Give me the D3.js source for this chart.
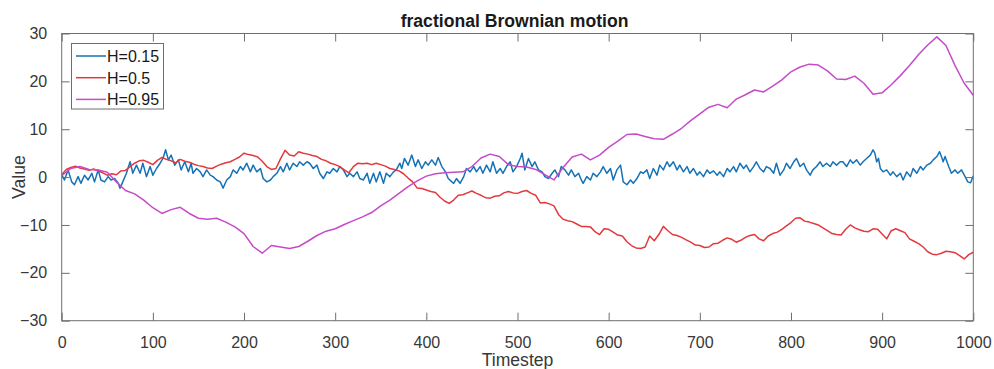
<!DOCTYPE html>
<html>
<head>
<meta charset="utf-8">
<script src="https://cdn.jsdelivr.net/npm/d3@7"></script>
<style>
  html, body { margin: 0; padding: 0; background: #fff; }
  svg { display: block; font-family: "Liberation Sans", Arial, Helvetica, sans-serif; }
</style>
</head>
<body>
<svg id="chart" width="994" height="369"></svg>
<script>
// Sample paths of fractional Brownian motion for three Hurst exponents.
const titleText = "fractional Brownian motion";
const xLabel = "Timestep";
const yLabel = "Value";
const xTicks = [0, 100, 200, 300, 400, 500, 600, 700, 800, 900, 1000];
const yTicks = [-30, -20, -10, 0, 10, 20, 30];
const seriesNames = ["H=0.15", "H=0.5", "H=0.95"];

// H=0.15: rough path, [timestep, value]
const h015 = [
  [0,0.5],[3,-0.6],[7,1.5],[11,-1.0],[14,-1.6],[18,0.1],[21,-1.3],[25,0.4],[29,-0.6],[33,0.8],
  [36,-1.0],[40,1.5],[43,-0.6],[47,-1.0],[51,0.1],[54,-0.6],[58,-0.3],[62,-1.3],[64,-2.3],[67,-1.0],
  [71,0.8],[75,3.2],[78,0.8],[82,2.5],[86,0.8],[89,2.9],[93,0.1],[97,2.2],[100,0.4],[104,1.8],
  [108,2.9],[111,3.9],[114,5.7],[117,3.6],[120,4.6],[124,2.5],[128,3.6],[131,1.5],[135,3.2],[139,1.1],
  [142,2.9],[144,0.8],[148,1.8],[152,1.1],[155,0.1],[159,1.5],[163,0.4],[166,0.1],[170,-0.6],[174,-1.0],
  [177,-2.3],[181,-0.6],[185,0.1],[188,1.5],[192,0.8],[196,2.2],[199,1.5],[203,2.9],[207,1.1],[210,2.5],
  [214,1.1],[218,1.8],[221,-0.3],[225,-1.0],[229,-0.6],[232,0.1],[236,0.8],[240,2.2],[243,1.1],[247,2.9],
  [250,1.5],[254,2.9],[258,2.2],[261,3.2],[265,2.5],[269,3.2],[272,2.9],[276,1.8],[280,2.5],[283,0.8],
  [287,-0.3],[291,1.1],[294,0.8],[298,1.8],[302,1.1],[305,2.2],[309,1.5],[313,0.1],[316,0.8],[320,0.1],
  [324,1.1],[327,-0.3],[331,-0.6],[335,0.8],[338,-1.3],[342,0.8],[345,-1.0],[349,1.1],[353,-1.3],[356,0.8],
  [360,0.1],[364,1.1],[367,1.5],[371,2.9],[373,1.8],[376,3.9],[380,2.5],[384,4.6],[388,2.2],[391,3.6],
  [395,1.8],[399,3.2],[402,2.5],[406,3.6],[410,2.5],[413,4.1],[417,2.2],[421,1.1],[424,-0.3],[428,-1.0],
  [430,-1.3],[433,-0.3],[437,-1.3],[441,0.1],[444,1.8],[448,1.1],[452,2.2],[455,1.1],[459,2.2],[462,0.8],
  [466,2.5],[470,1.1],[473,3.2],[477,0.8],[481,1.8],[484,0.8],[488,2.2],[492,3.2],[495,1.1],[499,2.2],
  [503,3.9],[505,5.0],[508,1.5],[512,3.9],[516,2.2],[519,3.2],[523,1.5],[527,1.1],[530,0.1],[534,-0.3],
  [538,0.8],[541,1.5],[545,0.1],[548,2.2],[552,1.5],[556,0.4],[559,1.5],[563,0.1],[567,0.8],[570,-0.6],
  [572,-1.3],[576,0.1],[580,-0.6],[583,0.8],[587,0.1],[591,1.1],[594,2.2],[598,0.8],[602,1.8],[605,-0.6],
  [609,1.5],[613,2.5],[616,-1.0],[620,-1.6],[624,-0.6],[627,-1.3],[631,-0.3],[635,1.1],[638,0.8],[642,1.5],
  [645,-0.3],[649,1.8],[653,0.4],[656,2.5],[660,1.5],[664,3.2],[667,2.2],[671,3.2],[675,1.5],[678,2.5],
  [682,1.1],[686,2.2],[689,0.8],[693,1.8],[697,0.4],[700,1.1],[704,0.1],[708,1.5],[711,0.8],[715,1.3],
  [719,0.4],[722,1.1],[726,0.1],[730,1.8],[733,1.1],[737,2.2],[740,1.1],[744,2.9],[748,1.8],[751,2.5],
  [755,1.1],[759,2.2],[762,3.2],[766,1.8],[770,1.1],[773,2.2],[777,1.8],[781,0.8],[784,2.9],[788,0.4],
  [792,1.5],[795,2.9],[799,1.8],[803,3.2],[806,3.9],[810,2.2],[814,2.9],[817,1.5],[821,0.4],[824,1.5],
  [828,2.2],[832,3.2],[835,2.2],[839,2.9],[843,2.2],[846,3.2],[850,2.5],[854,3.2],[857,3.2],[861,2.2],
  [865,3.6],[868,2.9],[872,3.6],[876,2.5],[879,3.2],[883,3.9],[887,4.6],[890,5.7],[892,5.0],[894,3.2],
  [896,3.9],[898,1.8],[901,1.1],[905,1.5],[909,0.4],[912,1.1],[916,0.1],[920,0.8],[923,-0.6],[927,1.1],
  [931,0.1],[934,1.8],[938,0.8],[942,2.2],[945,1.5],[949,2.5],[953,2.9],[956,3.6],[960,4.3],[963,5.3],
  [965,4.3],[967,3.2],[969,4.3],[973,2.2],[976,0.8],[980,1.5],[983,0.8],[987,1.5],[991,0.1],[994,-1.0],
  [997,-1.2],[1000,0.3]
];

// H=0.5: standard Brownian motion, one value every 5 timesteps
const h05Step = 5;
const h05 = [
  0.5,1.6,2.0,2.3,1.9,1.7,1.4,1.7,1.3,0.9,
  0.4,0.7,0.5,1.3,1.4,2.2,2.9,3.4,3.5,3.1,
  2.6,3.5,4.1,3.7,3.4,3.0,3.7,3.3,3.1,2.7,
  2.4,2.2,1.9,1.8,2.3,2.7,3.0,3.2,3.7,4.2,
  5.0,4.7,4.5,4.2,3.3,2.2,1.6,1.8,3.8,5.6,
  4.6,4.4,5.3,5.0,4.8,4.5,4.3,3.7,3.4,2.9,
  2.6,2.2,1.5,0.9,2.2,2.9,2.8,2.9,2.6,2.9,
  2.6,2.3,1.8,1.6,1.3,0.7,-0.2,-1.0,-2.3,-2.4,
  -2.7,-3.0,-3.2,-4.2,-5.0,-5.5,-4.8,-3.8,-3.7,-3.3,
  -2.9,-3.4,-3.8,-4.3,-4.4,-4.0,-3.9,-3.3,-3.0,-3.3,
  -3.4,-3.0,-2.8,-3.4,-3.8,-5.4,-5.3,-5.6,-6.0,-7.8,
  -8.8,-9.1,-9.3,-9.8,-10.3,-10.3,-10.4,-11.4,-12.0,-10.8,
  -10.9,-11.5,-12.1,-12.3,-13.5,-14.3,-14.8,-14.9,-14.6,-12.3,
  -13.3,-12.0,-10.3,-11.2,-12.0,-12.2,-12.6,-13.1,-13.6,-14.2,
  -14.3,-14.7,-14.6,-13.9,-13.8,-13.2,-12.7,-13.0,-13.6,-13.2,
  -12.6,-12.2,-12.0,-12.9,-13.3,-12.3,-11.8,-11.5,-10.9,-10.2,
  -9.5,-8.6,-8.5,-9.2,-9.4,-9.7,-10.0,-10.6,-11.2,-11.8,
  -12.0,-12.1,-10.9,-10.0,-10.6,-11.0,-11.3,-11.4,-10.8,-10.9,
  -11.9,-12.9,-11.2,-10.8,-11.2,-11.6,-12.9,-13.4,-13.9,-14.6,
  -15.6,-16.1,-16.2,-15.9,-15.5,-15.6,-15.8,-16.4,-17.1,-16.2,
  -15.7
];

// H=0.95: smooth, persistent path, one value every 10 timesteps
const h095Step = 10;
const h095 = [
  0.3,1.8,2.2,1.6,1.5,1.0,-1.0,-2.8,-3.5,-4.8,
  -6.4,-7.6,-6.8,-6.3,-7.6,-8.6,-8.8,-8.6,-9.4,-10.4,
  -11.8,-14.5,-15.9,-14.3,-14.6,-14.9,-14.5,-13.4,-12.2,-11.3,
  -10.8,-9.9,-9.1,-8.3,-7.4,-6.0,-4.8,-3.4,-2.0,-0.8,
  0.2,0.7,0.9,1.0,1.1,2.2,4.0,4.8,4.3,2.6,
  2.2,2.1,1.6,0.5,-0.6,2.0,4.2,4.8,3.6,4.6,
  6.2,7.5,8.9,9.0,8.5,8.0,7.9,9.0,10.2,11.8,
  13.2,14.6,15.2,14.5,16.3,17.2,18.2,17.8,19.0,20.3,
  22.0,23.0,23.6,23.4,22.2,20.5,20.4,21.1,19.6,17.3,
  17.6,19.3,21.2,23.3,25.6,27.6,29.3,27.5,23.3,19.6,
  17.1
];

const colors = ["#1572b6", "#e3383d", "#c64bc9"];

const series = [
  h015.map(([t, v]) => ({ t, v })),
  h05.map((v, i) => ({ t: i * h05Step, v })),
  h095.map((v, i) => ({ t: i * h095Step, v }))
];

const svg = d3.select("#chart");
const plotLeft = 61.7, plotRight = 973.3, plotTop = 33.5, plotBottom = 320.7;

const x = d3.scaleLinear().domain([0, 1000]).range([plotLeft, plotRight]);
const y = d3.scaleLinear().domain([-30, 30]).range([plotBottom, plotTop]);

const axisColor = "#6e6e6e";
const textColor = "#383838";
const tickLen = 8;
const lineWidth = 1.5;

// plot background
svg.append("rect")
  .attr("x", plotLeft).attr("y", plotTop)
  .attr("width", plotRight - plotLeft).attr("height", plotBottom - plotTop)
  .attr("fill", "#fff");

svg.append("defs").append("clipPath").attr("id", "plot-clip")
  .append("rect")
  .attr("x", plotLeft).attr("y", plotTop)
  .attr("width", plotRight - plotLeft).attr("height", plotBottom - plotTop);

// data lines (drawn in series order, later series on top)
const line = d3.line().x(d => x(d.t)).y(d => y(d.v));
const lines = svg.append("g").attr("clip-path", "url(#plot-clip)");
series.forEach((s, i) => {
  lines.append("path")
    .datum(s)
    .attr("d", line)
    .attr("fill", "none")
    .attr("stroke", colors[i])
    .attr("stroke-width", lineWidth)
    .attr("stroke-linejoin", "round");
});

// axes: ticks point inward, box on all four sides
const fontSize = 16;
const styleAxis = g => {
  g.select(".domain").remove();
  g.selectAll(".tick line").attr("stroke", axisColor).attr("stroke-width", 1);
  g.selectAll(".tick text").attr("fill", textColor).attr("font-size", fontSize)
    .attr("font-family", "Liberation Sans, Arial, sans-serif");
};

svg.append("g")
  .attr("transform", `translate(0,${plotBottom})`)
  .call(d3.axisBottom(x).tickValues(xTicks).tickFormat(d3.format("d"))
    .tickSizeInner(-tickLen).tickSizeOuter(0).tickPadding(tickLen + 8))
  .call(styleAxis);

svg.append("g")
  .attr("transform", `translate(0,${plotTop})`)
  .call(d3.axisTop(x).tickValues(xTicks).tickFormat("")
    .tickSizeInner(-tickLen).tickSizeOuter(0))
  .call(styleAxis);

svg.append("g")
  .attr("transform", `translate(${plotLeft},0)`)
  .call(d3.axisLeft(y).tickValues(yTicks).tickFormat(d3.format("d"))
    .tickSizeInner(-tickLen).tickSizeOuter(0).tickPadding(tickLen + 6.5))
  .call(styleAxis);

svg.append("g")
  .attr("transform", `translate(${plotRight},0)`)
  .call(d3.axisRight(y).tickValues(yTicks).tickFormat("")
    .tickSizeInner(-tickLen).tickSizeOuter(0))
  .call(styleAxis);

svg.append("rect")
  .attr("x", plotLeft).attr("y", plotTop)
  .attr("width", plotRight - plotLeft).attr("height", plotBottom - plotTop)
  .attr("fill", "none")
  .attr("stroke", axisColor)
  .attr("stroke-width", 1);

// titles
svg.append("text")
  .attr("x", (plotLeft + plotRight) / 2 - 3)
  .attr("y", 26.5)
  .attr("text-anchor", "middle")
  .attr("font-size", 17.6)
  .attr("font-weight", "bold")
  .attr("fill", "#1a1a1a")
  .text(titleText);

svg.append("text")
  .attr("x", (plotLeft + plotRight) / 2)
  .attr("y", 366)
  .attr("text-anchor", "middle")
  .attr("font-size", 17.6)
  .attr("fill", textColor)
  .text(xLabel);

svg.append("text")
  .attr("transform", `translate(25,${(plotTop + plotBottom) / 2}) rotate(-90)`)
  .attr("text-anchor", "middle")
  .attr("font-size", 17.6)
  .attr("fill", textColor)
  .text(yLabel);

// legend
const legend = svg.append("g");
legend.append("rect")
  .attr("x", 71.5).attr("y", 43.5)
  .attr("width", 92).attr("height", 65.5)
  .attr("fill", "#fff")
  .attr("stroke", axisColor)
  .attr("stroke-width", 1);

seriesNames.forEach((name, i) => {
  const cy = 56 + i * 21.7;
  legend.append("line")
    .attr("x1", 76).attr("x2", 106)
    .attr("y1", cy).attr("y2", cy)
    .attr("stroke", colors[i])
    .attr("stroke-width", lineWidth);
  legend.append("text")
    .attr("x", 107)
    .attr("y", cy + 6)
    .attr("font-size", fontSize)
    .attr("fill", "#1a1a1a")
    .text(name);
});
</script>
</body>
</html>
